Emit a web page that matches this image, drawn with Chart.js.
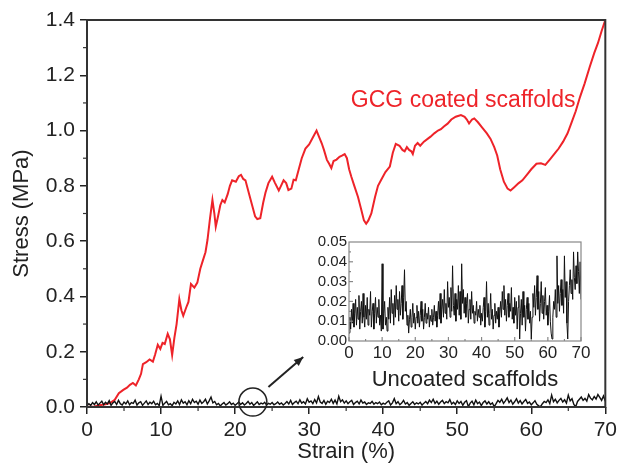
<!DOCTYPE html>
<html>
<head>
<meta charset="utf-8">
<script src="https://cdn.jsdelivr.net/npm/chart.js@4.4.0/dist/chart.umd.min.js"></script>
<style>
  html, body { margin: 0; padding: 0; background: #fff; }
  #wrap { position: relative; width: 621px; height: 464px; }
  #main { position: absolute; left: 0; top: 0; }
  #inset { position: absolute; left: 300px; top: 232px; }
</style>
</head>
<body>
<div id="wrap">
  <canvas id="main" width="621" height="464"></canvas>
  <canvas id="inset" width="300" height="168"></canvas>
</div>
<script>
//DATA
// GCG coated scaffolds (red curve)
const redStrain = [0, 1, 1.7, 2.5, 3.1, 3.75, 4.3, 4.9, 5.4, 5.8, 6.2, 6.6, 7.0, 7.3, 7.55, 8.0, 8.45, 8.9, 9.2, 9.56, 9.9, 10.2, 10.5, 10.9, 11.2, 11.5, 11.8, 12.1, 12.47, 12.75, 13.0, 13.4, 13.7, 14.04, 14.5, 14.9, 15.3, 15.6, 16.0, 16.27, 16.6, 16.94, 17.2, 17.39, 17.7, 18.0, 18.28, 18.6, 19.0, 19.3, 19.6, 20.1, 20.5, 20.8, 21.1, 21.4, 21.9, 22.3, 22.7, 23.0, 23.4, 23.8, 24.1, 24.5, 25.0, 25.4, 25.9, 26.2, 26.55, 26.9, 27.2, 27.6, 27.9, 28.2, 28.6, 29.0, 29.5, 30.0, 30.5, 31.0, 31.3, 31.7, 32.0, 32.4, 32.7, 33.0, 33.3, 33.7, 34.1, 34.5, 34.8, 35.1, 35.4, 35.7, 36.1, 36.6, 37.05, 37.4, 37.7, 38.0, 38.4, 38.9, 39.3, 39.7, 40.3, 40.9, 41.3, 41.7, 42.2, 42.6, 42.9, 43.2, 43.5, 43.8, 44.0, 44.3, 44.65, 45.0, 45.5, 46.0, 46.4, 46.9, 47.4, 47.8, 48.2, 48.7, 49.2, 49.8, 50.5, 51.0, 51.3, 51.6, 52.0, 52.3, 52.8, 53.4, 54.0, 54.5, 55.0, 55.4, 55.8, 56.3, 56.8, 57.2, 57.7, 58.3, 58.8, 59.4, 60.0, 60.7, 61.3, 61.9, 62.5, 63.2, 63.7, 64.3, 64.9, 65.4, 66.0, 66.6, 67.2, 67.9, 68.5, 69.0, 69.5, 70.0];
const redStress = [0, 0.002, 0.006, 0.01, 0.014, 0.026, 0.05, 0.062, 0.07, 0.08, 0.087, 0.078, 0.1, 0.12, 0.155, 0.162, 0.172, 0.164, 0.19, 0.225, 0.21, 0.232, 0.228, 0.265, 0.245, 0.188, 0.25, 0.3, 0.39, 0.35, 0.33, 0.36, 0.38, 0.445, 0.432, 0.45, 0.5, 0.526, 0.56, 0.604, 0.68, 0.749, 0.7, 0.652, 0.69, 0.73, 0.749, 0.74, 0.77, 0.8, 0.82, 0.815, 0.835, 0.84, 0.825, 0.82, 0.77, 0.73, 0.69, 0.68, 0.683, 0.74, 0.775, 0.81, 0.833, 0.81, 0.783, 0.8, 0.82, 0.81, 0.785, 0.79, 0.822, 0.82, 0.86, 0.9, 0.935, 0.95, 0.975, 1.0, 0.98, 0.954, 0.93, 0.894, 0.88, 0.864, 0.89, 0.895, 0.905, 0.91, 0.915, 0.9, 0.86, 0.833, 0.8, 0.76, 0.713, 0.675, 0.663, 0.675, 0.7, 0.76, 0.8, 0.82, 0.85, 0.87, 0.92, 0.952, 0.945, 0.93, 0.925, 0.94, 0.93, 0.925, 0.915, 0.945, 0.955, 0.945, 0.96, 0.97, 0.978, 0.99, 1.0, 1.005, 1.015, 1.025, 1.04, 1.05, 1.056, 1.05, 1.04, 1.026, 1.04, 1.044, 1.03, 1.01, 0.99, 0.97, 0.94, 0.91, 0.86, 0.815, 0.79, 0.783, 0.795, 0.81, 0.82, 0.84, 0.86, 0.88, 0.882, 0.876, 0.895, 0.918, 0.935, 0.96, 0.99, 1.026, 1.07, 1.123, 1.17, 1.231, 1.28, 1.316, 1.36, 1.40];

// uncoated scaffolds (black noisy curve), one reading every 0.25 % strain
const noiseStep = 0.25;
const noiseStress = [
  0.004, 0.012, 0.006, 0.016, 0.009, 0.019, 0.007, 0.014, 0.021, 0.008, 0.017, 0.011, 0.023, 0.006, 0.015, 0.02, 0.009, 0.024, 0.012, 0.007, 0.018,
  0.011, 0.022, 0.008, 0.016, 0.013, 0.025, 0.007, 0.015, 0.019, 0.006, 0.014, 0.022, 0.009, 0.017, 0.012, 0.021, 0.008, 0.013, 0.005, 0.039,
  0.006, 0.014, 0.02, 0.008, 0.012, 0.005, 0.017, 0.011, 0.022, 0.009, 0.026, 0.014, 0.019, 0.008, 0.023, 0.012, 0.028, 0.016, 0.021, 0.01,
  0.025, 0.013, 0.019, 0.028, 0.011, 0.022, 0.036, 0.015, 0.02, 0.008, 0.013, 0.004, 0.011, 0.016, 0.007, 0.012, 0.019, 0.009, 0.014, 0.006,
  0.012, 0.018, 0.009, 0.015, 0.007, 0.013, 0.02, 0.01, 0.016, 0.006, 0.012, 0.019, 0.009, 0.014, 0.011, 0.017, 0.007, 0.013, 0.01, 0.016,
  0.008, 0.012, 0.018, 0.01, 0.015, 0.007, 0.013, 0.02, 0.011, 0.024, 0.009, 0.016, 0.021, 0.012, 0.026, 0.014, 0.019, 0.011, 0.03, 0.017,
  0.022, 0.012, 0.027, 0.015, 0.038, 0.018, 0.013, 0.024, 0.01, 0.021, 0.016, 0.028, 0.013, 0.025, 0.011, 0.039, 0.019, 0.026, 0.014, 0.022,
  0.012, 0.019, 0.024, 0.009, 0.016, 0.021, 0.011, 0.025, 0.014, 0.018, 0.009, 0.015, 0.013, 0.02, 0.01, 0.016, 0.012, 0.018, 0.008, 0.014,
  0.01, 0.017, 0.022, 0.007, 0.015, 0.03, 0.012, 0.019, 0.008, 0.014, 0.024, 0.011, 0.016, 0.006, 0.013, 0.019, 0.009, 0.015, 0.011, 0.017,
  0.007, 0.014, 0.02, 0.012, 0.025, 0.016, 0.028, 0.013, 0.021, 0.01, 0.018, 0.024, 0.012, 0.019, 0.015, 0.027, 0.011, 0.017, 0.009, 0.022,
  0.013, 0.02, 0.006, 0.017, 0.023, 0.001, 0.014, 0.021, 0.008, 0.025, 0.012, 0.018, 0.005, 0.016, 0.022, 0.011, 0.019, 0.009, 0.015, 0.001,
  0.012, 0.024, 0.017, 0.028, 0.013, 0.022, 0.033, 0.016, 0.025, 0.01, 0.019, 0.03, 0.014, 0.023, 0.011, 0.02, 0.027, 0.013, 0.018, 0.008,
  0.015, 0.023, 0.01, 0.004, 0.001, 0.012, 0.02, 0.016, 0.026, 0.012, 0.043, 0.019, 0.028, 0.015, 0.024, 0.031, 0.018, 0.026, 0.014, 0.043,
  0.022, 0.03, 0.009, 0.001, 0.02, 0.028, 0.036, 0.024, 0.031, 0.021, 0.045, 0.032, 0.026, 0.038, 0.029, 0.045, 0.035, 0.024, 0.04, 0.021
];

// axis ticks
const mainXTicks = [0, 10, 20, 30, 40, 50, 60, 70];
const mainXMinor = [5, 15, 25, 35, 45, 55, 65];
const mainYMinor = [0.1, 0.3, 0.5, 0.7, 0.9, 1.1, 1.3];
const insetYTicks = [0, 0.01, 0.02, 0.03, 0.04, 0.05];
const insetXMinor = [5, 15, 25, 35, 45, 55, 65];
const insetYMinor = [0.005, 0.015, 0.025, 0.035, 0.045];

// annotations (data coordinates)
const gcgLabel = { text: "GCG coated scaffolds", x: 50.8, y: 1.11 };
const zoomCircle = { x: 22.4, y: 0.018 };
const arrowFrom = { x: 24.5, y: 0.072 };
const arrowTo = { x: 29.2, y: 0.181 };

//STYLE
const FONT = "'Liberation Sans', Arial, sans-serif";
const INK = "#222";
const RED = "#ee2329";

const noisePoints = noiseStress.map((v, i) => ({ x: i * noiseStep, y: v }));
const redPoints = redStrain.map((x, i) => ({ x: x, y: redStress[i] }));

//frame around the plot area + minor ticks
function framePlugin(color, width, xMinor, yMinor, minorLen, inward, xMajor, yMajor, majorLen) {
  return {
    id: "frame",
    afterDraw(chart) {
      const { ctx, chartArea: a, scales } = chart;
      ctx.save();
      ctx.strokeStyle = color;
      ctx.lineWidth = width;
      ctx.strokeRect(a.left, a.top, a.right - a.left, a.bottom - a.top);
      const dir = inward ? -1 : 1;
      const tick = (vals, len, horiz) => {
        vals.forEach((v) => {
          ctx.beginPath();
          if (horiz) {
            const px = scales.x.getPixelForValue(v);
            ctx.moveTo(px, a.bottom);
            ctx.lineTo(px, a.bottom + dir * len);
          } else {
            const py = scales.y.getPixelForValue(v);
            ctx.moveTo(a.left, py);
            ctx.lineTo(a.left - dir * len, py);
          }
          ctx.stroke();
        });
      };
      ctx.lineWidth = 1.2;
      tick(xMinor, minorLen, true);
      tick(yMinor, minorLen, false);
      if (xMajor) tick(xMajor, majorLen, true);
      if (yMajor) tick(yMajor, majorLen, false);
      ctx.restore();
    },
  };
}

//text, circle and arrow on the main chart
const notesPlugin = {
  id: "notes",
  afterDraw(chart) {
    const { ctx, scales } = chart;
    const px = (p) => [scales.x.getPixelForValue(p.x), scales.y.getPixelForValue(p.y)];
    ctx.save();
    ctx.font = "23px " + FONT;
    ctx.fillStyle = RED;
    ctx.textAlign = "center";
    ctx.textBaseline = "middle";
    const [lx, ly] = px(gcgLabel);
    ctx.fillText(gcgLabel.text, lx, ly);

    ctx.strokeStyle = "#222";
    ctx.lineWidth = 1.5;
    const [cx, cy] = px(zoomCircle);
    ctx.beginPath();
    ctx.arc(cx, cy, 14, 0, Math.PI * 2);
    ctx.stroke();

    const [ax, ay] = px(arrowFrom);
    const [bx, by] = px(arrowTo);
    ctx.lineWidth = 2;
    ctx.beginPath();
    ctx.moveTo(ax, ay);
    ctx.lineTo(bx, by);
    ctx.stroke();
    const ang = Math.atan2(by - ay, bx - ax);
    ctx.fillStyle = "#222";
    ctx.beginPath();
    ctx.moveTo(bx, by);
    ctx.lineTo(bx - 10 * Math.cos(ang - 0.4), by - 10 * Math.sin(ang - 0.4));
    ctx.lineTo(bx - 10 * Math.cos(ang + 0.4), by - 10 * Math.sin(ang + 0.4));
    ctx.closePath();
    ctx.fill();
    ctx.restore();
  },
};

//MAIN CHART
new Chart(document.getElementById("main"), {
  type: "line",
  data: {
    datasets: [
      { label: "Uncoated", data: noisePoints, borderColor: "#111", borderWidth: 1.4, pointRadius: 0 },
      { label: "GCG coated", data: redPoints, borderColor: RED, borderWidth: 2, pointRadius: 0 },
    ],
  },
  options: {
    responsive: false,
    animation: false,
    layout: { padding: { top: 20, right: 12, left: 0, bottom: 0 } },
    plugins: { legend: { display: false }, tooltip: { enabled: false } },
    scales: {
      x: {
        type: "linear",
        min: 0,
        max: 70,
        afterBuildTicks: (s) => { s.ticks = mainXTicks.map((v) => ({ value: v })); },
        ticks: { font: { family: FONT, size: 21 }, color: INK, padding: 4, maxRotation: 0 },
        grid: { drawOnChartArea: false, tickLength: 7, color: INK, lineWidth: 1.5 },
        border: { display: false },
        title: { display: true, text: "Strain (%)", color: INK, font: { family: FONT, size: 22, lineHeight: 1.1 }, padding: 0 },
        afterFit: (s) => { s.height = 57; },
      },
      y: {
        type: "linear",
        min: 0,
        max: 1.4,
        ticks: { stepSize: 0.2, callback: (v) => Number(v).toFixed(1), font: { family: FONT, size: 21 }, color: INK, padding: 5 },
        grid: { drawOnChartArea: false, tickLength: 7, color: INK, lineWidth: 1.5 },
        border: { display: false },
        title: { display: true, text: "Stress (MPa)", color: INK, font: { family: FONT, size: 22, lineHeight: 1.1 }, padding: { top: 10, bottom: 0 } },
        afterFit: (s) => { s.width = 87; },
      },
    },
  },
  plugins: [framePlugin("#333", 2, mainXMinor, mainYMinor, 4, false), notesPlugin],
});

//INSET CHART
new Chart(document.getElementById("inset"), {
  type: "line",
  data: {
    datasets: [{ label: "Uncoated", data: noisePoints, borderColor: "#111", borderWidth: 1, pointRadius: 0 }],
  },
  options: {
    responsive: false,
    animation: false,
    layout: { padding: { top: 10, right: 19, left: 0, bottom: 0 } },
    plugins: { legend: { display: false }, tooltip: { enabled: false } },
    scales: {
      x: {
        type: "linear",
        min: 0,
        max: 70,
        afterBuildTicks: (s) => { s.ticks = mainXTicks.map((v) => ({ value: v })); },
        ticks: { font: { family: FONT, size: 17 }, color: INK, padding: 2, maxRotation: 0, autoSkip: false },
        grid: { display: false, drawTicks: false },
        border: { display: false },
        title: { display: true, text: "Uncoated scaffolds", color: INK, font: { family: FONT, size: 22, lineHeight: 1.1 }, padding: { top: 0, bottom: 8 } },
        afterFit: (s) => { s.height = 59; },
      },
      y: {
        type: "linear",
        min: 0,
        max: 0.05,
        afterBuildTicks: (s) => { s.ticks = insetYTicks.map((v) => ({ value: v })); },
        ticks: { callback: (v) => Number(v).toFixed(2), font: { family: FONT, size: 15, lineHeight: 1 }, color: INK, padding: 2, autoSkip: false },
        grid: { display: false, drawTicks: false },
        border: { display: false },
        afterFit: (s) => { s.width = 49; },
      },
    },
  },
  plugins: [framePlugin("#888", 1.2, insetXMinor, insetYMinor, 2, true, mainXTicks, [0.01, 0.02, 0.03, 0.04], 4)],
});
</script>
</body>
</html>
